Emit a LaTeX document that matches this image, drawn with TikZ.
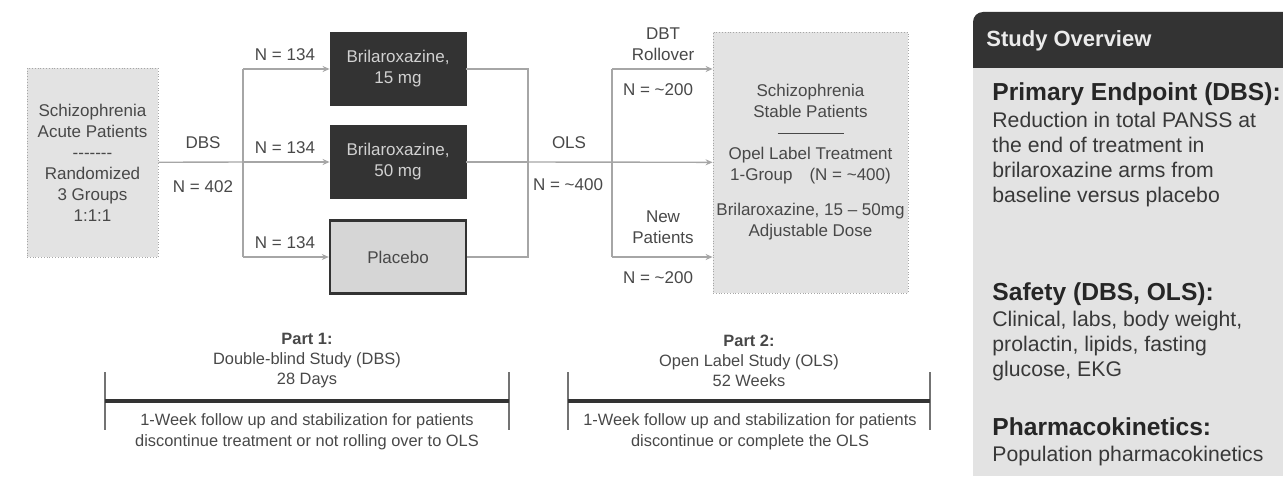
\documentclass[tikz,border=0pt]{standalone}
\usepackage{fontspec}
\setmainfont{Liberation Sans}
\usetikzlibrary{arrows.meta}

\definecolor{darkfill}{HTML}{333333}
\definecolor{lightfill}{HTML}{E3E3E3}
\definecolor{plfill}{HTML}{D6D6D6}
\definecolor{conngray}{HTML}{A6A6A6}
\definecolor{textgray}{HTML}{484848}

\begin{document}
\begin{tikzpicture}[x=0.5pt,y=-0.5pt,
  font=\fontsize{8.5}{10.5}\selectfont,
  every node/.style={text=textgray},
  lightbox/.style={draw=conngray, densely dotted, fill=lightfill, align=center, inner sep=0pt},
  darkbox/.style={draw=darkfill, fill=darkfill, text=white!82!black, align=center,
    minimum width=68pt, minimum height=36.5pt, inner sep=0pt},
  conn/.style={draw=conngray, line width=0.7pt},
  arr/.style={conn, -{Stealth[length=3.5pt,width=3pt]}},
  lbl/.style={inner sep=0pt, align=center},
  bar/.style={draw=darkfill, line width=2.2pt},
  tick/.style={draw=black!55, line width=0.8pt},
  note/.style={inner sep=0pt, align=center, font=\fontsize{8.2}{10.5}\selectfont},
  phead/.style={anchor=west, inner sep=0pt, text=black!85, font=\fontsize{12.3}{14}\selectfont\bfseries},
  pbody/.style={anchor=north west, inner sep=0pt, align=left, text=black!78,
    font=\fontsize{10.6}{12.5}\selectfont}]
\useasboundingbox (0,0) rectangle (1283,476);

% boxes
\node[lightbox, minimum width=65.5pt, minimum height=94.5pt] (acute) at (92.5,162.5)
  {Schizophrenia\\Acute Patients\\-{}-{}-{}-{}-{}-{}-\\Randomized\\3 Groups\\1:1:1};
\node[darkbox] (b15) at (398,69) {Brilaroxazine,\\15 mg};
\node[darkbox] (b50) at (398,162) {Brilaroxazine,\\50 mg};
\node[darkbox, draw=black!80, fill=plfill, text=textgray, line width=1.2pt] (plac) at (398,257) {Placebo};
\node[lightbox, minimum width=97.5pt, minimum height=130.5pt] (stable) at (810.5,162.5)
  {Schizophrenia\\Stable Patients\\\rule[2.5pt]{33pt}{0.6pt}\\Opel Label Treatment\\
   1-Group\quad(N = \textasciitilde400)\\[7pt]Brilaroxazine, 15 -- 50mg\\Adjustable Dose};

% DBS split
\coordinate (split) at (243,162);
\draw[conn] (acute) -- (split);
\draw[conn] (split |- b15) -- (split |- plac);
\draw[arr] (split |- b15) -- (b15);
\draw[arr] (split) -- (b50);
\draw[arr] (split |- plac) -- (plac);

% OLS merge and fork
\coordinate (merge) at (528,162);
\coordinate (fork) at (612,162);
\draw[conn] (b15) -- (merge |- b15) -- (merge |- plac) -- (plac);
\draw[conn] (b50) -- (merge);
\draw[arr] (merge) -- (stable);
\draw[conn] (fork |- b15) -- (fork |- plac);
\draw[arr] (fork |- b15) -- (stable.west |- b15);
\draw[arr] (fork |- plac) -- (stable.west |- plac);

% labels
\node[lbl] (dbs) at (203,143) {DBS};
\node[lbl] (n402) at (203,187) {N = 402};
\node[lbl] (n15) at (285,55) {N = 134};
\node[lbl] (n50) at (285,148) {N = 134};
\node[lbl] (npl) at (285,243) {N = 134};
\node[lbl] (ols) at (569,143) {OLS};
\node[lbl] (n400) at (568,185) {N = \textasciitilde400};
\node[lbl] (roll) at (663,44) {DBT\\Rollover};
\node[lbl] (nroll) at (658,90) {N = \textasciitilde200};
\node[lbl] (newp) at (663,227) {New\\Patients};
\node[lbl] (nnew) at (658,278) {N = \textasciitilde200};

% timelines
\coordinate (p1a) at (105,401);
\coordinate (p1b) at (509,401);
\draw[tick] (105,372) -- (105,430);
\draw[tick] (509,372) -- (509,430);
\draw[bar] (p1a) -- (p1b);
\node[note] (part1) at (307,361) {\textbf{Part 1:}\\[-0.5pt]Double-blind Study (DBS)\\[-0.5pt]28 Days};
\node[note] (fup1) at (307,432) {1-Week follow up and stabilization for patients\\discontinue treatment or not rolling over to OLS};

\coordinate (p2a) at (568,401);
\coordinate (p2b) at (930,401);
\draw[tick] (568,372) -- (568,430);
\draw[tick] (930,372) -- (930,430);
\draw[bar] (p2a) -- (p2b);
\node[note] (part2) at (749,361) {\textbf{Part 2:}\\[-0.5pt]Open Label Study (OLS)\\[-0.5pt]52 Weeks};
\node[note] (fup2) at (750,432) {1-Week follow up and stabilization for patients\\discontinue or complete the OLS};

% study overview panel
\fill[lightfill] (973,68) rectangle (1283,476);
\fill[darkfill] (973,68) [rounded corners=5pt] -- (973,12) [sharp corners] -- (1283,12) -- (1283,68) -- cycle;
\node[phead, font=\fontsize{11}{13}\selectfont\bfseries, text=white!92!black] (ovr) at (986,41) {Study Overview};
\node[phead] (prim) at (992,94) {Primary Endpoint (DBS):};
\node[pbody] (primtxt) at (992,112) {Reduction in total PANSS at\\the end of treatment in\\brilaroxazine arms from\\baseline versus placebo};
\node[phead] (safe) at (992,294) {Safety (DBS, OLS):};
\node[pbody] (safetxt) at (992,311) {Clinical, labs, body weight,\\prolactin, lipids, fasting\\glucose, EKG};
\node[phead] (pk) at (992,427) {Pharmacokinetics:};
\node[pbody] (pktxt) at (992,446) {Population pharmacokinetics};
\end{tikzpicture}
\end{document}
